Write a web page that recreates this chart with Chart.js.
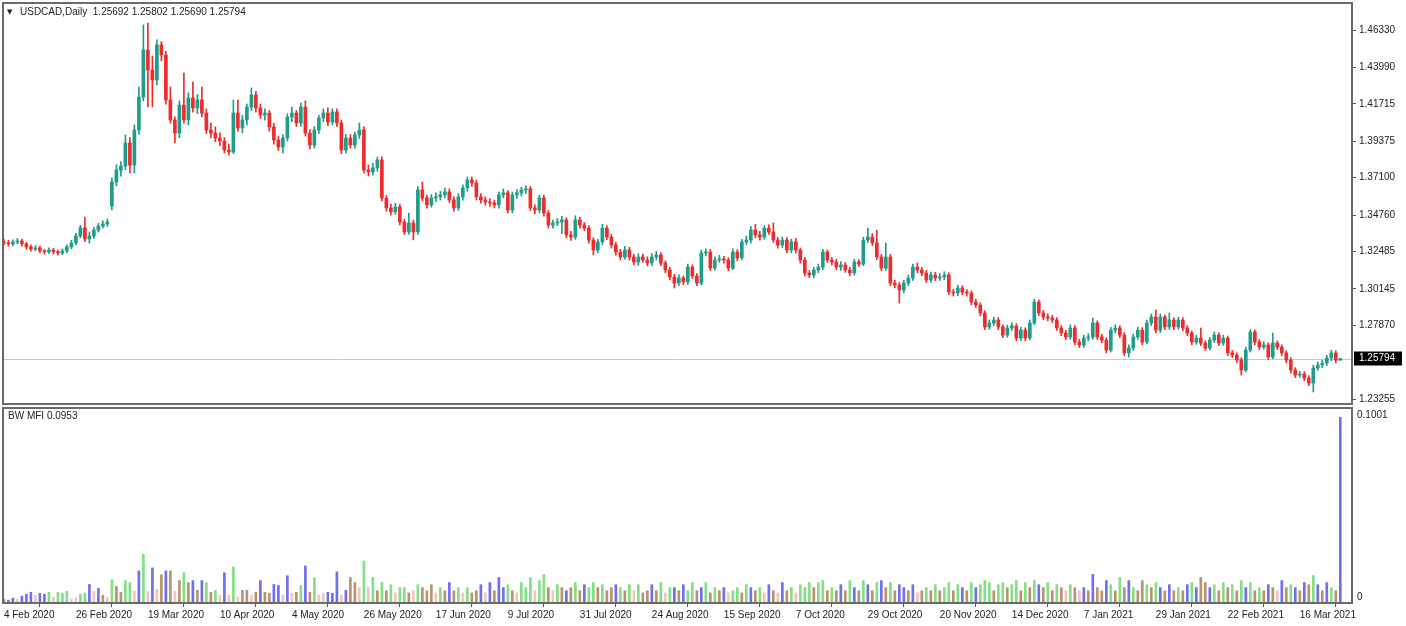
<!DOCTYPE html>
<html>
<head>
<meta charset="utf-8">
<script src="https://cdn.jsdelivr.net/npm/chart.js@4.4.1/dist/chart.umd.min.js"></script>
<style>
  html, body { margin: 0; padding: 0; background: #fff; }
  #wrap { position: relative; width: 1406px; height: 626px; overflow: hidden; background: #fff; }
  #price { position: absolute; left: 0; top: 0; }
  #mfi { position: absolute; left: 0; top: 404px; }
</style>
</head>
<body>
<div id="wrap">
  <canvas id="price" width="1406" height="406"></canvas>
  <canvas id="mfi" width="1406" height="222"></canvas>
</div>
<script>
// USDCAD daily, 4 Feb 2020 .. 29 Mar 2021 (one entry per bar)
const opens = [
  1.3310,1.3302,1.3296,1.3308,1.3314,1.3296,1.3277,1.3264,1.3271,1.3252,
  1.3246,1.3258,1.3246,1.3239,1.3252,1.3277,1.3302,1.3346,1.3396,1.3327,
  1.3346,1.3383,1.3408,1.3421,1.3533,1.3683,1.3758,1.3783,1.3927,1.3789,
  1.4008,1.4214,1.4508,1.4383,1.4321,1.4540,1.4477,1.4196,1.4071,1.3989,
  1.4164,1.4071,1.4208,1.4146,1.4196,1.4114,1.4008,1.3989,1.3958,1.3939,
  1.3883,1.3871,1.4114,1.4021,1.4071,1.4152,1.4227,1.4146,1.4102,1.4114,
  1.4027,1.3946,1.3902,1.3958,1.4089,1.4114,1.4052,1.4152,1.3989,1.3914,
  1.4008,1.4083,1.4114,1.4058,1.4121,1.4052,1.3883,1.3958,1.3914,1.3977,
  1.4008,1.3758,1.3746,1.3771,1.3821,1.3583,1.3521,1.3496,1.3527,1.3433,
  1.3371,1.3427,1.3371,1.3633,1.3583,1.3540,1.3583,1.3590,1.3602,1.3621,
  1.3571,1.3521,1.3590,1.3646,1.3696,1.3677,1.3590,1.3571,1.3558,1.3552,
  1.3540,1.3602,1.3615,1.3508,1.3602,1.3615,1.3633,1.3640,1.3521,1.3508,
  1.3583,1.3489,1.3414,1.3427,1.3433,1.3446,1.3352,1.3339,1.3446,1.3414,
  1.3395,1.3320,1.3258,1.3308,1.3395,1.3339,1.3289,1.3245,1.3214,1.3258,
  1.3214,1.3183,1.3214,1.3195,1.3177,1.3214,1.3227,1.3177,1.3133,1.3089,
  1.3051,1.3083,1.3058,1.3151,1.3095,1.3051,1.3239,1.3245,1.3145,1.3195,
  1.3201,1.3195,1.3145,1.3245,1.3208,1.3308,1.3320,1.3383,1.3352,1.3339,
  1.3395,1.3370,1.3320,1.3289,1.3320,1.3258,1.3308,1.3258,1.3195,1.3114,
  1.3101,1.3133,1.3151,1.3245,1.3195,1.3183,1.3151,1.3164,1.3133,1.3114,
  1.3183,1.3170,1.3320,1.3339,1.3302,1.3214,1.3145,1.3214,1.3051,1.3039,
  1.3008,1.3051,1.3083,1.3151,1.3133,1.3114,1.3070,1.3101,1.3083,1.3089,
  1.3101,1.2995,1.2989,1.3020,1.2995,1.2989,1.2933,1.2914,1.2864,1.2777,
  1.2801,1.2820,1.2777,1.2726,1.2770,1.2783,1.2707,1.2757,1.2707,1.2801,
  1.2933,1.2864,1.2839,1.2833,1.2820,1.2770,1.2739,1.2714,1.2770,1.2682,
  1.2664,1.2707,1.2714,1.2801,1.2714,1.2695,1.2632,1.2757,1.2770,1.2726,
  1.2614,1.2645,1.2714,1.2757,1.2682,1.2801,1.2839,1.2757,1.2839,1.2777,
  1.2820,1.2777,1.2820,1.2770,1.2739,1.2682,1.2707,1.2676,1.2645,1.2695,
  1.2726,1.2676,1.2707,1.2614,1.2601,1.2570,1.2507,1.2632,1.2745,1.2682,
  1.2651,1.2664,1.2589,1.2676,1.2651,1.2614,1.2570,1.2507,1.2476,1.2482,
  1.2457,1.2426,1.2520,1.2539,1.2551,1.2582,1.2614,1.25692
];
const highs = [
  1.3325,1.3318,1.3322,1.3330,1.3325,1.3305,1.3290,1.3285,1.3282,1.3262,
  1.3272,1.3268,1.3258,1.3265,1.3290,1.3318,1.3362,1.3412,1.3464,1.3370,
  1.3400,1.3425,1.3440,1.3452,1.3708,1.3790,1.3810,1.3977,1.3960,1.4040,
  1.4277,1.4665,1.4677,1.4470,1.4571,1.4560,1.4500,1.4277,1.4090,1.4190,
  1.4364,1.4240,1.4308,1.4230,1.4277,1.4140,1.4052,1.4027,1.3990,1.3960,
  1.3920,1.4196,1.4196,1.4100,1.4170,1.4271,1.4250,1.4170,1.4140,1.4130,
  1.4050,1.3970,1.3980,1.4110,1.4152,1.4130,1.4177,1.4190,1.4010,1.4030,
  1.4100,1.4140,1.4146,1.4140,1.4140,1.4070,1.3980,1.3980,1.3995,1.4052,
  1.4030,1.3790,1.3800,1.3839,1.3840,1.3600,1.3545,1.3550,1.3545,1.3450,
  1.3489,1.3445,1.3655,1.3683,1.3600,1.3605,1.3615,1.3625,1.3645,1.3640,
  1.3590,1.3610,1.3665,1.3714,1.3715,1.3695,1.3610,1.3590,1.3580,1.3570,
  1.3620,1.3640,1.3630,1.3620,1.3635,1.3650,1.3660,1.3655,1.3540,1.3600,
  1.3600,1.3505,1.3445,1.3455,1.3468,1.3460,1.3375,1.3472,1.3462,1.3430,
  1.3410,1.3335,1.3325,1.3418,1.3410,1.3355,1.3305,1.3262,1.3280,1.3275,
  1.3230,1.3235,1.3232,1.3215,1.3236,1.3250,1.3242,1.3190,1.3150,1.3105,
  1.3102,1.3095,1.3170,1.3165,1.3110,1.3258,1.3265,1.3262,1.3215,1.3225,
  1.3218,1.3210,1.3265,1.3260,1.3325,1.3345,1.3405,1.3418,1.3375,1.3410,
  1.3415,1.3427,1.3335,1.3340,1.3335,1.3325,1.3330,1.3270,1.3210,1.3130,
  1.3150,1.3170,1.3262,1.3258,1.3210,1.3200,1.3185,1.3180,1.3150,1.3200,
  1.3198,1.3338,1.3395,1.3360,1.3383,1.3230,1.3302,1.3230,1.3068,1.3055,
  1.3070,1.3100,1.3170,1.3177,1.3150,1.3130,1.3120,1.3118,1.3110,1.3122,
  1.3115,1.3012,1.3038,1.3035,1.3010,1.3002,1.2950,1.2928,1.2878,1.2820,
  1.2838,1.2835,1.2790,1.2788,1.2802,1.2798,1.2775,1.2772,1.2820,1.2950,
  1.2945,1.2880,1.2858,1.2850,1.2835,1.2785,1.2755,1.2790,1.2785,1.2700,
  1.2725,1.2735,1.2833,1.2815,1.2730,1.2710,1.2775,1.2790,1.2785,1.2740,
  1.2665,1.2732,1.2775,1.2772,1.2820,1.2858,1.2883,1.2858,1.2852,1.2864,
  1.2835,1.2838,1.2835,1.2785,1.2752,1.2725,1.2770,1.2690,1.2712,1.2745,
  1.2740,1.2725,1.2720,1.2630,1.2615,1.2585,1.2650,1.2760,1.2758,1.2698,
  1.2685,1.2678,1.2739,1.2690,1.2665,1.2628,1.2585,1.2522,1.2500,1.2498,
  1.2472,1.2538,1.2558,1.2570,1.2600,1.2632,1.2628,1.25802
];
const lows = [
  1.3290,1.3282,1.3285,1.3295,1.3282,1.3262,1.3250,1.3252,1.3240,1.3232,
  1.3235,1.3232,1.3225,1.3228,1.3240,1.3265,1.3290,1.3335,1.3310,1.3300,
  1.3330,1.3370,1.3395,1.3405,1.3508,1.3660,1.3720,1.3760,1.3740,1.3739,
  1.3980,1.4190,1.4152,1.4152,1.4290,1.4440,1.4170,1.4050,1.3927,1.3960,
  1.4050,1.4040,1.4120,1.4110,1.4090,1.3985,1.3958,1.3935,1.3910,1.3864,
  1.3850,1.3860,1.4000,1.3990,1.4040,1.4130,1.4120,1.4080,1.4070,1.4000,
  1.3920,1.3880,1.3864,1.3940,1.4060,1.4030,1.4030,1.3970,1.3890,1.3895,
  1.3985,1.4060,1.4035,1.4040,1.4030,1.3860,1.3864,1.3895,1.3895,1.3955,
  1.3740,1.3720,1.3725,1.3750,1.3565,1.3500,1.3475,1.3480,1.3415,1.3355,
  1.3355,1.3321,1.3355,1.3565,1.3520,1.3525,1.3560,1.3570,1.3585,1.3555,
  1.3500,1.3505,1.3570,1.3625,1.3655,1.3570,1.3550,1.3540,1.3530,1.3520,
  1.3520,1.3585,1.3490,1.3490,1.3580,1.3595,1.3610,1.3505,1.3485,1.3490,
  1.3470,1.3395,1.3395,1.3410,1.3360,1.3335,1.3318,1.3325,1.3395,1.3378,
  1.3300,1.3227,1.3240,1.3290,1.3322,1.3270,1.3225,1.3195,1.3200,1.3195,
  1.3165,1.3162,1.3180,1.3158,1.3160,1.3196,1.3160,1.3115,1.3070,1.3020,
  1.3035,1.3040,1.3042,1.3080,1.3035,1.3040,1.3220,1.3130,1.3130,1.3180,
  1.3176,1.3128,1.3135,1.3190,1.3195,1.3290,1.3300,1.3335,1.3320,1.3325,
  1.3355,1.3305,1.3270,1.3272,1.3240,1.3240,1.3240,1.3175,1.3095,1.3085,
  1.3085,1.3115,1.3135,1.3180,1.3165,1.3135,1.3130,1.3118,1.3098,1.3100,
  1.3155,1.3160,1.3305,1.3285,1.3198,1.3128,1.3130,1.3035,1.3020,1.2926,
  1.2990,1.3035,1.3068,1.3115,1.3098,1.3055,1.3055,1.3066,1.3068,1.3072,
  1.2978,1.2970,1.2972,1.2978,1.2970,1.2915,1.2898,1.2846,1.2760,1.2762,
  1.2785,1.2760,1.2710,1.2712,1.2755,1.2690,1.2692,1.2690,1.2695,1.2790,
  1.2848,1.2822,1.2815,1.2802,1.2755,1.2722,1.2698,1.2700,1.2665,1.2648,
  1.2650,1.2690,1.2700,1.2698,1.2678,1.2615,1.2620,1.2740,1.2710,1.2598,
  1.2589,1.2630,1.2700,1.2665,1.2670,1.2785,1.2740,1.2742,1.2760,1.2762,
  1.2760,1.2762,1.2752,1.2722,1.2665,1.2668,1.2660,1.2630,1.2632,1.2680,
  1.2660,1.2662,1.2598,1.2585,1.2552,1.2476,1.2495,1.2620,1.2665,1.2635,
  1.2638,1.2572,1.2578,1.2635,1.2598,1.2552,1.2490,1.2460,1.2462,1.2440,
  1.2410,1.2370,1.2505,1.2522,1.2535,1.2565,1.2552,1.25690
];
const closes = [
  1.3302,1.3296,1.3308,1.3314,1.3296,1.3277,1.3264,1.3271,1.3252,1.3246,
  1.3258,1.3246,1.3239,1.3252,1.3277,1.3302,1.3346,1.3396,1.3327,1.3346,
  1.3383,1.3408,1.3421,1.3433,1.3683,1.3758,1.3783,1.3927,1.3789,1.4008,
  1.4214,1.4508,1.4383,1.4321,1.4540,1.4477,1.4196,1.4071,1.3989,1.4164,
  1.4071,1.4208,1.4146,1.4196,1.4114,1.4008,1.3989,1.3958,1.3939,1.3883,
  1.3871,1.4114,1.4021,1.4071,1.4152,1.4227,1.4146,1.4102,1.4114,1.4027,
  1.3946,1.3902,1.3958,1.4089,1.4114,1.4052,1.4152,1.3989,1.3914,1.4008,
  1.4083,1.4114,1.4058,1.4121,1.4052,1.3883,1.3958,1.3914,1.3977,1.4008,
  1.3758,1.3746,1.3771,1.3821,1.3583,1.3521,1.3496,1.3527,1.3433,1.3371,
  1.3427,1.3371,1.3633,1.3583,1.3540,1.3583,1.3590,1.3602,1.3621,1.3571,
  1.3521,1.3590,1.3646,1.3696,1.3677,1.3590,1.3571,1.3558,1.3552,1.3540,
  1.3602,1.3615,1.3508,1.3602,1.3615,1.3633,1.3640,1.3521,1.3508,1.3583,
  1.3489,1.3414,1.3427,1.3433,1.3446,1.3352,1.3339,1.3446,1.3414,1.3395,
  1.3320,1.3258,1.3308,1.3395,1.3339,1.3289,1.3245,1.3214,1.3258,1.3214,
  1.3183,1.3214,1.3195,1.3177,1.3214,1.3227,1.3177,1.3133,1.3089,1.3051,
  1.3083,1.3058,1.3151,1.3095,1.3051,1.3239,1.3245,1.3145,1.3195,1.3201,
  1.3195,1.3145,1.3245,1.3208,1.3308,1.3320,1.3383,1.3352,1.3339,1.3395,
  1.3370,1.3320,1.3289,1.3320,1.3258,1.3308,1.3258,1.3195,1.3114,1.3101,
  1.3133,1.3151,1.3245,1.3195,1.3183,1.3151,1.3164,1.3133,1.3114,1.3183,
  1.3170,1.3320,1.3339,1.3302,1.3214,1.3145,1.3214,1.3051,1.3039,1.3008,
  1.3051,1.3083,1.3151,1.3133,1.3114,1.3070,1.3101,1.3083,1.3089,1.3101,
  1.2995,1.2989,1.3020,1.2995,1.2989,1.2933,1.2914,1.2864,1.2777,1.2801,
  1.2820,1.2777,1.2726,1.2770,1.2783,1.2707,1.2757,1.2707,1.2801,1.2933,
  1.2864,1.2839,1.2833,1.2820,1.2770,1.2739,1.2714,1.2770,1.2682,1.2664,
  1.2707,1.2714,1.2801,1.2714,1.2695,1.2632,1.2757,1.2770,1.2726,1.2614,
  1.2645,1.2714,1.2757,1.2682,1.2801,1.2839,1.2757,1.2839,1.2777,1.2820,
  1.2777,1.2820,1.2770,1.2739,1.2682,1.2707,1.2676,1.2645,1.2695,1.2726,
  1.2676,1.2707,1.2614,1.2601,1.2570,1.2507,1.2632,1.2745,1.2682,1.2651,
  1.2664,1.2589,1.2676,1.2651,1.2614,1.2570,1.2507,1.2476,1.2482,1.2457,
  1.2426,1.2520,1.2539,1.2551,1.2582,1.2614,1.25692,1.25794
];

// Bill Williams Market Facilitation Index, one value per bar
const mfi = [
  0.0020,0.0015,0.0025,0.0020,0.0035,0.0045,0.0055,0.0040,0.0050,0.0045,
  0.0055,0.0030,0.0055,0.0050,0.0060,0.0020,0.0025,0.0045,0.0050,0.0095,
  0.0060,0.0075,0.0040,0.0030,0.0120,0.0085,0.0055,0.0115,0.0105,0.0060,
  0.0165,0.0250,0.0060,0.0180,0.0070,0.0145,0.0165,0.0165,0.0060,0.0115,
  0.0155,0.0105,0.0115,0.0065,0.0115,0.0105,0.0055,0.0065,0.0040,0.0155,
  0.0040,0.0185,0.0030,0.0065,0.0065,0.0040,0.0055,0.0115,0.0055,0.0050,
  0.0095,0.0090,0.0040,0.0140,0.0050,0.0055,0.0090,0.0190,0.0055,0.0130,
  0.0040,0.0050,0.0055,0.0050,0.0160,0.0040,0.0065,0.0131,0.0105,0.0079,
  0.0215,0.0079,0.0131,0.0063,0.0105,0.0063,0.0094,0.0052,0.0079,0.0079,
  0.0052,0.0063,0.0094,0.0079,0.0063,0.0094,0.0052,0.0079,0.0063,0.0105,
  0.0063,0.0079,0.0052,0.0079,0.0052,0.0063,0.0094,0.0052,0.0105,0.0063,
  0.0131,0.0079,0.0094,0.0063,0.0052,0.0105,0.0079,0.0131,0.0063,0.0115,
  0.0147,0.0079,0.0063,0.0094,0.0079,0.0063,0.0079,0.0105,0.0063,0.0094,
  0.0079,0.0105,0.0079,0.0094,0.0063,0.0079,0.0094,0.0079,0.0063,0.0094,
  0.0063,0.0094,0.0052,0.0063,0.0094,0.0063,0.0105,0.0052,0.0079,0.0079,
  0.0063,0.0094,0.0063,0.0105,0.0063,0.0079,0.0105,0.0052,0.0079,0.0063,
  0.0079,0.0052,0.0063,0.0079,0.0052,0.0094,0.0079,0.0063,0.0079,0.0052,
  0.0094,0.0063,0.0052,0.0105,0.0063,0.0079,0.0052,0.0094,0.0079,0.0105,
  0.0079,0.0105,0.0115,0.0063,0.0079,0.0063,0.0094,0.0063,0.0115,0.0079,
  0.0063,0.0115,0.0094,0.0063,0.0105,0.0115,0.0079,0.0105,0.0063,0.0094,
  0.0079,0.0063,0.0094,0.0052,0.0063,0.0079,0.0063,0.0094,0.0063,0.0079,
  0.0105,0.0063,0.0094,0.0079,0.0063,0.0105,0.0079,0.0094,0.0115,0.0105,
  0.0063,0.0094,0.0105,0.0079,0.0094,0.0115,0.0063,0.0105,0.0079,0.0115,
  0.0094,0.0079,0.0105,0.0063,0.0094,0.0079,0.0063,0.0094,0.0079,0.0063,
  0.0079,0.0063,0.0147,0.0079,0.0063,0.0115,0.0094,0.0063,0.0131,0.0079,
  0.0115,0.0079,0.0063,0.0115,0.0094,0.0079,0.0105,0.0079,0.0063,0.0094,
  0.0063,0.0079,0.0063,0.0094,0.0105,0.0079,0.0131,0.0105,0.0079,0.0094,
  0.0063,0.0105,0.0079,0.0094,0.0063,0.0115,0.0079,0.0105,0.0063,0.0079,
  0.0063,0.0094,0.0079,0.0063,0.0115,0.0079,0.0094,0.0079,0.0063,0.0105,
  0.0094,0.0141,0.0094,0.0063,0.0105,0.0079,0.0063,0.0953
];
// g = MFI up / volume up, n = fade, b = fake, p = squat
const mfiKinds =
  "nbbpbbbpbb" + "gpgggppggb" + "pbnpgnnggp" + "bgpbpnbnpn" + "gnbnbgngpb" +
  "pgpnnpnbnn" + "bbpbpngbng" + "ppbbbpbnnp" + "gpgngngpgg" + "npgnnnpgnb" +
  "ngpgnnbpbn" + "bbgnpgggpg" + "gnpgnbngnb" + "ggngnnbgng" + "pgnnbngpgb" +
  "nbggnbgngn" + "bpggngbngp" + "bnpbngpggg" + "nggngnbngb" + "ngbngbngnb" +
  "bnbpngngng" + "gngbngbggg" + "nggnggngng" + "bngngnpgnp" + "bnbnnbgngn" +
  "bgnngngbnb" + "ngnbgbnnbg" + "ngngngbgng" + "nbnpbngbnb" + "ngbnbgnb";

const dateTicks = ["4 Feb 2020", "26 Feb 2020", "19 Mar 2020", "10 Apr 2020", "4 May 2020",
  "26 May 2020", "17 Jun 2020", "9 Jul 2020", "31 Jul 2020", "24 Aug 2020", "15 Sep 2020",
  "7 Oct 2020", "29 Oct 2020", "20 Nov 2020", "14 Dec 2020", "7 Jan 2021", "29 Jan 2021",
  "22 Feb 2021", "16 Mar 2021"];
const priceTicks = [1.46330, 1.43990, 1.41715, 1.39375, 1.37100, 1.34760, 1.32485, 1.30145, 1.27870, 1.23255];

const BULL = "#1f9d8b", BEAR = "#f02b2b", FRAME = "#6a6a6a", TXT = "#222";
const kindColor = { g: "#84e084", n: "#b8946e", b: "#6f6ff0", p: "#f3c4c4" };
const last = closes.length - 1;
const idx = closes.map((_, i) => i);
const candleColor = idx.map(i => closes[i] >= opens[i] ? BULL : BEAR);

Chart.defaults.font.family = "'Liberation Sans', Arial, sans-serif";
Chart.defaults.font.size = 10;
Chart.defaults.color = TXT;

const frame = {
  id: "frame",
  afterDraw(chart) {
    const { ctx, chartArea: a } = chart;
    ctx.save();
    ctx.strokeStyle = FRAME;
    ctx.lineWidth = 2;
    ctx.strokeRect(a.left, a.top, a.right - a.left, a.bottom - a.top);
    ctx.restore();
  }
};

const priceLine = {
  id: "priceLine",
  beforeDatasetsDraw(chart) {
    const { ctx, chartArea: a } = chart;
    const y = Math.round(chart.scales.y.getPixelForValue(closes[last])) + 0.5;
    ctx.save();
    ctx.strokeStyle = "#c8c8c8";
    ctx.lineWidth = 1;
    ctx.beginPath();
    ctx.moveTo(a.left, y);
    ctx.lineTo(a.right, y);
    ctx.stroke();
    ctx.restore();
  },
  afterDraw(chart) {
    const { ctx, chartArea: a } = chart;
    const y = chart.scales.y.getPixelForValue(closes[last]);
    ctx.save();
    ctx.fillStyle = "#000";
    ctx.fillRect(a.right + 2, y - 7, 48, 14);
    ctx.fillStyle = "#fff";
    ctx.font = "10px 'Liberation Sans', Arial, sans-serif";
    ctx.textBaseline = "middle";
    ctx.fillText(closes[last].toFixed(5), a.right + 7, y);
    // header
    ctx.fillStyle = TXT;
    ctx.font = "7px 'DejaVu Sans', sans-serif";
    ctx.fillText("▼", 7, 12);
    ctx.font = "10px 'Liberation Sans', Arial, sans-serif";
    ctx.fillText("USDCAD,Daily  " + [opens[last], highs[last], lows[last], closes[last]]
      .map(v => v.toFixed(5)).join(" "), 20, 12);
    ctx.restore();
  }
};

const mfiText = {
  id: "mfiText",
  afterDraw(chart) {
    const { ctx, chartArea: a } = chart;
    ctx.save();
    ctx.fillStyle = TXT;
    ctx.font = "10px 'Liberation Sans', Arial, sans-serif";
    ctx.textBaseline = "middle";
    ctx.fillText("BW MFI " + mfi[last].toFixed(4), 8, a.top + 8);
    ctx.fillText("0.1001", a.right + 5, a.top + 7);
    ctx.fillText("0", a.right + 5, a.bottom - 6);
    ctx.restore();
  }
};

const xRange = { type: "linear", min: -0.2, max: 299.6, offset: false };

new Chart(document.getElementById("price"), {
  type: "bar",
  data: {
    datasets: [
      {
        label: "body",
        data: idx.map(i => ({ x: i, y: [opens[i], closes[i]] })),
        backgroundColor: candleColor,
        barThickness: 3,
        minBarLength: 1,
        grouped: false,
        order: 0
      },
      {
        label: "wick",
        data: idx.map(i => ({ x: i, y: [lows[i], highs[i]] })),
        backgroundColor: candleColor,
        barThickness: 1,
        grouped: false,
        order: 1
      }
    ]
  },
  options: {
    responsive: false,
    animation: false,
    events: [],
    layout: { padding: { left: 3, top: 3, bottom: 2, right: 0 } },
    plugins: { legend: { display: false }, tooltip: { enabled: false } },
    scales: {
      x: Object.assign({}, xRange, { display: false }),
      y: {
        position: "right",
        min: 1.2295,
        max: 1.4802,
        afterFit: s => { s.width = 54; s.paddingTop = 0; s.paddingBottom = 0; },
        afterBuildTicks: s => { s.ticks = priceTicks.map(v => ({ value: v })); },
        ticks: { callback: v => v.toFixed(5), padding: 3, autoSkip: false },
        grid: { drawOnChartArea: false, tickLength: 4, color: "#555" },
        border: { display: false }
      }
    }
  },
  plugins: [priceLine, frame]
});

new Chart(document.getElementById("mfi"), {
  type: "bar",
  data: {
    datasets: [{
      label: "BW MFI",
      data: idx.map(i => ({ x: i, y: mfi[i] })),
      backgroundColor: idx.map(i => kindColor[mfiKinds[i]]),
      barThickness: 2,
      grouped: false
    }]
  },
  options: {
    responsive: false,
    animation: false,
    events: [],
    layout: { padding: { left: 3, top: 4, bottom: 0, right: 0 } },
    plugins: { legend: { display: false }, tooltip: { enabled: false } },
    scales: {
      x: Object.assign({}, xRange, {
        afterBuildTicks: s => { s.ticks = dateTicks.map((_, k) => ({ value: k * 16 })); },
        afterFit: s => { s.height = 23; s.paddingLeft = 0; s.paddingRight = 0; },
        ticks: { autoSkip: false, maxRotation: 0, align: "start", padding: 2,
                 callback: (v, k) => dateTicks[k] },
        grid: { drawOnChartArea: false, tickLength: 4, color: "#555" },
        border: { display: false }
      }),
      y: {
        position: "right",
        min: 0,
        max: 0.1001,
        afterFit: s => { s.width = 54; },
        ticks: { display: false },
        grid: { display: false },
        border: { display: false }
      }
    }
  },
  plugins: [mfiText, frame]
});
</script>
</body>
</html>
